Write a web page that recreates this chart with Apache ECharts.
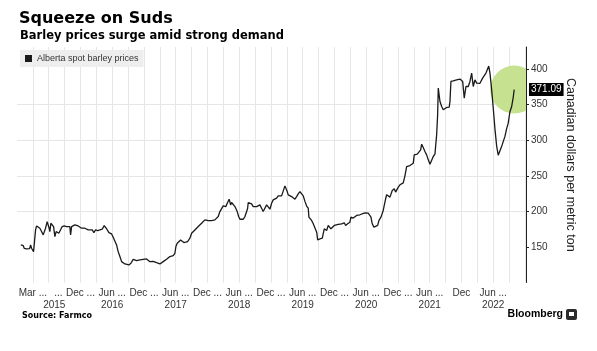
<!DOCTYPE html>
<html>
<head>
<meta charset="utf-8">
<title></title>
<script src="https://cdn.jsdelivr.net/npm/echarts@6/dist/echarts.min.js"></script>
</head>
<body style="margin: 0; overflow: hidden; background: #fff;">
<div id="main" style="width: 597px; height: 351px;"></div>
<script type="text/javascript">
// x = months since Jan 2015
var months = [
  -0.27, -0.02, 0.17, 0.36, 0.62, 0.81, 1.11, 1.38, 1.57, 1.75, 1.94, 2.13, 2.51, 2.70, 3.00, 3.32, 3.64, 3.95,
  4.14, 4.40, 4.70, 4.89, 5.08, 5.21, 5.40, 5.72, 5.91, 6.16, 6.40, 6.67, 6.91, 7.24, 7.54, 7.92, 8.37, 8.67,
  8.99, 9.13, 9.32, 9.62, 9.94, 10.26, 10.56, 10.88, 11.21, 11.51, 11.83, 12.15, 12.45, 12.77, 13.21, 13.53,
  13.85, 14.23, 14.67, 15.10, 15.48, 15.74, 15.99, 16.37, 16.88, 17.18, 17.50, 17.82, 18.12, 18.45, 18.77,
  19.07, 19.39, 19.71, 20.15, 20.53, 20.96, 21.28, 21.60, 21.90, 22.23, 22.55, 22.85, 23.17, 23.49, 23.80,
  24.12, 24.44, 24.74, 25.06, 25.38, 25.69, 26.01, 26.33, 26.63, 26.95, 27.27, 27.58, 27.90, 28.22, 28.52,
  28.84, 29.03, 29.28, 29.60, 29.92, 30.22, 30.54, 30.87, 31.24, 31.49, 31.68, 32.00, 32.30, 32.62, 32.95,
  33.25, 33.57, 33.89, 34.19, 34.51, 34.84, 35.14, 35.46, 35.78, 36.08, 36.40, 36.72, 37.03, 37.35, 37.67,
  37.97, 38.29, 38.48, 38.73, 38.92, 39.10, 39.37, 39.56, 39.86, 40.19, 40.38, 40.62, 40.89, 41.13, 41.45,
  41.76, 42.08, 42.40, 42.59, 42.70, 43.02, 43.34, 43.64, 43.96, 44.29, 44.59, 44.91, 45.23, 45.42, 45.53,
  45.85, 46.18, 46.48, 46.80, 47.12, 47.42, 47.74, 48.07, 48.37, 48.69, 49.01, 49.32, 49.64, 49.83, 50.07,
  50.26, 50.58, 50.90, 51.21, 51.53, 51.85, 52.15, 52.47, 52.79, 53.10, 53.42, 53.74, 54.04, 54.17, 54.68,
  54.99, 55.32, 55.64, 55.82, 56.26, 56.70, 57.07, 57.33, 57.52, 57.82, 58.01, 58.33, 58.58, 58.96, 59.28,
  59.71, 60.03, 60.35, 60.85, 61.11, 61.49, 61.92, 62.11, 62.36, 62.55, 62.87, 63.19, 63.49, 63.81, 64.25,
  64.76, 65.08, 65.38, 65.71, 65.90, 66.14, 66.46, 66.78, 67.16, 67.41, 67.79, 68.03, 68.22, 68.41, 68.67,
  68.86, 69.17, 69.49, 69.68, 69.92, 70.30, 70.56, 70.81, 71.06, 71.38, 71.70, 72.00, 72.32, 72.64, 72.94,
  73.26, 73.58, 73.89, 74.08, 74.40, 74.65, 75.02, 75.29, 75.48, 75.78, 76.10, 76.42, 76.73, 77.05, 77.37,
  77.67, 77.99, 78.31, 78.50, 78.62, 78.81, 78.94, 79.26, 79.56, 79.88, 80.20, 80.69, 80.83, 81.01, 81.45,
  82.09, 82.72, 83.04, 83.23, 83.34, 83.53, 83.85, 84.29, 84.61, 84.93, 85.23, 85.55, 85.87, 86.17, 86.50,
  86.68, 87.00, 87.31, 87.63, 87.88, 88.16, 88.39, 88.71, 89.01, 89.33, 89.65, 89.95, 90.27, 90.59, 90.89,
  91.21, 91.53, 91.84, 92.16, 92.48, 92.78, 92.97
];
var prices = [
  152.8, 150.5, 151.9, 148.1, 149.5, 147.2, 149.1, 147.6, 152.8, 148.1, 145.8, 143.4, 173.9, 179.5, 177.7, 176.3, 171.6, 166.9,
  164.5, 176.3, 185.6, 187.0, 176.3, 171.6, 183.3, 185.2, 178.6, 164.5, 171.6, 173.9, 169.2, 166.9, 178.6, 179.5, 178.6, 179.5,
  178.6, 166.9, 178.6, 178.6, 181.0, 183.3, 179.5, 177.2, 176.3, 175.3, 176.3, 174.9, 173.9, 176.3, 173.9, 170.2,
  173.9, 173.0, 173.9, 174.9, 180.0, 178.6, 174.9, 170.2, 168.3, 163.6, 162.2, 152.8, 143.4, 136.5, 129.3,
  127.0, 126.1, 125.6, 124.7, 127.0, 132.6, 132.6, 130.8, 129.3, 131.7, 133.6, 132.6, 134.0, 133.1, 130.8,
  129.3, 127.9, 129.8, 128.9, 127.9, 126.5, 126.1, 127.0, 129.3, 130.8, 132.6, 134.0, 136.4, 138.7, 137.8,
  141.1, 150.5, 155.2, 156.1, 159.8, 158.9, 156.1, 157.5, 157.5, 156.6, 162.2, 169.2, 171.6, 173.9, 176.3,
  178.6, 180.9, 183.3, 184.2, 188.0, 188.9, 187.0, 185.6, 187.0, 185.6, 188.0, 187.0, 192.7, 199.7, 201.1,
  207.7, 209.1, 206.7, 211.4, 212.8, 217.1, 209.1, 212.4, 210.5, 206.7, 204.4, 199.7, 192.7, 188.9, 188.0,
  188.9, 192.7, 199.7, 204.4, 212.4, 210.0, 210.5, 206.7, 207.7, 206.7, 206.7, 209.1, 204.4, 203.0, 199.7,
  204.4, 209.1, 207.7, 203.0, 211.4, 216.1, 215.2, 218.5, 221.7, 223.1, 221.7, 223.1, 235.8, 235.8, 227.8,
  223.1, 221.7, 220.8, 218.5, 217.1, 220.8, 224.6, 227.8, 225.5, 221.7, 214.0, 207.5, 204.4, 191.9, 187.2,
  182.5, 180.2, 170.8, 160.0, 161.4, 162.3, 175.5, 176.4, 173.1, 180.2, 182.5, 175.5, 173.1, 180.2, 182.5,
  181.6, 183.9, 182.5, 183.9, 180.2, 182.5, 184.8, 191.9, 193.3, 190.5, 193.3, 194.2, 191.9, 195.2, 196.6,
  198.0, 196.6, 197.5, 195.2, 191.9, 182.5, 177.8, 176.4, 180.2, 187.2, 191.9, 194.2, 201.3, 208.3, 217.7,
  223.3, 224.7, 220.0, 222.4, 229.4, 231.7, 227.1, 229.4, 234.1, 237.3, 237.4, 240.0, 250.0, 263.0, 265.3,
  264.4, 261.6, 267.7, 279.4, 278.5, 280.3, 279.4, 286.4, 294.4, 289.7, 284.1, 279.4, 272.4, 266.3, 265.3,
  277.1, 280.3, 307.5, 335.7, 373.2, 374.1, 354.4, 347.4, 342.7, 344.1, 346.0, 346.5, 354.4, 382.6, 383.5,
  384.9, 385.9, 386.3, 382.6, 384.9, 359.1, 375.5, 375.5, 382.6, 394.3, 375.5, 384.9, 380.2, 378.8, 380.0,
  379.0, 387.3, 389.6, 394.3, 399.0, 404.2, 394.3, 370.9, 345.0, 316.0, 292.0, 279.0, 278.0, 291.0, 298.0,
  305.0, 316.0, 324.0, 340.0, 347.0, 360.0, 371.09
];
var lastPrice = 371.09;

// x ticks every 3 months from Dec 2014 (-1): Mar, Jun, Sep, Dec
var xTickLabels = {
  2: 'Mar ...', 5: '       ...\n    2015', 11: 'Dec ...', 17: 'Jun ...\n2016', 23: 'Dec ...', 29: 'Jun ...\n2017',
  35: 'Dec ...', 41: 'Jun ...\n2018', 47: 'Dec ...', 53: 'Jun ...\n2019', 59: 'Dec ...', 65: 'Jun ...\n2020',
  71: 'Dec ...', 77: 'Jun ...\n2021', 83: 'Dec', 89: 'Jun ...\n2022'
};
var yTicks = [150, 200, 250, 300, 350, 400];

var seriesData = months.map(function (m, i) { return [m, prices[i]]; });
var lastPoint = seriesData[seriesData.length - 1];

var sans = 'Liberation Sans, Arial, sans-serif';
var bold = 'DejaVu Sans, Verdana, sans-serif';

var myChart = echarts.init(document.getElementById('main'));
var option = {
  animation: false,
  backgroundColor: '#fff',
  title: [
    { text: 'Squeeze on Suds', left: 19, top: 11, padding: 0,
      textStyle: { fontFamily: bold, fontWeight: 'bold', fontSize: 16, color: '#000' } },
    { text: 'Barley prices surge amid strong demand', left: 20, top: 30, padding: 0,
      textStyle: { fontFamily: bold, fontWeight: 'bold', fontSize: 11.5, color: '#000' } },
    { text: 'Source: Farmco', left: 22, top: 312, padding: 0,
      textStyle: { fontFamily: bold, fontWeight: 'bold', fontSize: 8, color: '#000' } },
    { text: 'Bloomberg', right: 34, top: 309, padding: 0,
      textStyle: { fontFamily: sans, fontWeight: 'bold', fontSize: 10.5, color: '#000' } }
  ],
  graphic: [
    { type: 'rect', left: 566, top: 309, shape: { width: 11, height: 11, r: 2 }, style: { fill: '#2b2b2b' } },
    { type: 'rect', left: 569, top: 312, shape: { width: 5, height: 4 }, style: { fill: '#fff' } }
  ],
  legend: {
    data: ['Alberta spot barley prices'],
    left: 20, top: 50,
    backgroundColor: '#eeeeee',
    padding: [4, 5, 4, 5],
    icon: 'rect', itemWidth: 7, itemHeight: 7,
    textStyle: { fontFamily: sans, fontSize: 9, color: '#333' },
    selectedMode: false,
    z: 10
  },
  grid: { left: 17, right: 71, top: 47, bottom: 68.5 },
  xAxis: {
    type: 'value',
    min: -1, max: 95.2, interval: 3,
    axisLine: { show: false },
    axisTick: { show: false },
    axisLabel: {
      showMinLabel: true, showMaxLabel: false,
      formatter: function (v) {
        return xTickLabels[Math.round(v)] || '';
      },
      fontFamily: sans, fontSize: 10, color: '#333', margin: 5, lineHeight: 12
    },
    splitLine: { show: true, showMinLine: false, showMaxLine: false, lineStyle: { color: '#e6e6e6', width: 1 } }
  },
  yAxis: {
    type: 'value',
    position: 'right',
    min: 100, max: 431,
    axisLine: { show: true, onZero: false, lineStyle: { color: '#222', width: 1 } },
    axisTick: { show: true, customValues: yTicks, length: 3, lineStyle: { color: '#222' } },
    axisLabel: { customValues: yTicks, margin: 5, fontFamily: sans, fontSize: 10, color: '#333' },
    splitLine: { show: true, showMinLine: false, showMaxLine: false, lineStyle: { color: '#e6e6e6', width: 1 } },
    name: 'Canadian dollars per metric ton',
    nameLocation: 'middle',
    nameRotate: -90,
    nameGap: 38,
    nameTextStyle: { fontFamily: sans, fontSize: 12.5, color: '#222' }
  },
  series: [
    {
      name: 'highlight',
      type: 'custom',
      clip: true,
      silent: true,
      data: [lastPoint],
      renderItem: function (params, api) {
        var c = api.coord([api.value(0), api.value(1)]);
        return { type: 'circle', shape: { cx: c[0], cy: c[1], r: 24 }, style: { fill: '#c6e190' } };
      },
      z: 1
    },
    {
      name: 'Alberta spot barley prices',
      type: 'line',
      data: seriesData,
      showSymbol: false,
      symbol: 'none',
      color: '#1a1a1a',
      lineStyle: { color: '#1a1a1a', width: 1.3 },
      z: 2,
      markLine: {
        silent: true,
        symbol: 'none',
        lineStyle: { color: 'rgba(0,0,0,0)', width: 0 },
        data: [{ yAxis: lastPrice }],
        label: {
          show: true,
          position: 'end', distance: 3,
          formatter: lastPrice.toFixed(2),
          backgroundColor: '#000', color: '#fff',
          padding: [2, 2, 1, 2],
          fontFamily: sans, fontSize: 10
        }
      }
    }
  ]
};
myChart.setOption(option);
</script>
</body>
</html>
